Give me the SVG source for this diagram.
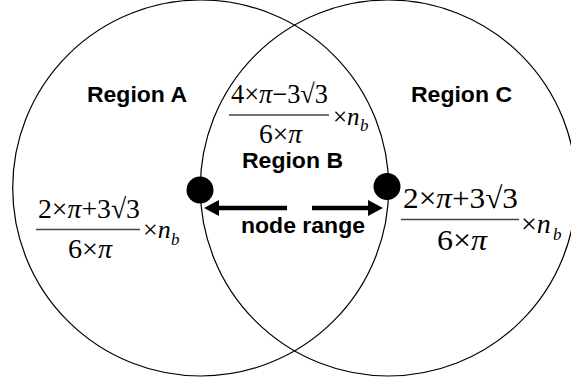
<svg xmlns="http://www.w3.org/2000/svg" width="571" height="381" viewBox="0 0 571 381">
<style>
.ring{fill:none;stroke:#000;stroke-width:1.2}
.lbl{font-family:"Liberation Sans",Arial,sans-serif;font-weight:bold;font-size:21.5px;fill:#000}
.m{font-family:"Liberation Serif","Times New Roman",serif;font-size:28px;fill:#000}
.it{font-style:italic}
.sub{font-family:"Liberation Serif","Times New Roman",serif;font-style:italic;font-size:17px;fill:#000}
.bar{stroke:#444;stroke-width:1.4}
.dot{fill:#000}
.shaft{stroke:#000;stroke-width:4.5}
</style>
<rect width="571" height="381" fill="#fff"/>
<g id="circle-left"><circle class="ring" cx="200.7" cy="188" r="188"/></g>
<g id="circle-right"><circle class="ring" cx="388.3" cy="188" r="188"/></g>

<g id="region-a">
<text class="lbl" x="87" y="102" textLength="100" lengthAdjust="spacingAndGlyphs">Region A</text>
<text class="m" x="38" y="218" textLength="102" lengthAdjust="spacingAndGlyphs">2×<tspan class="it">π</tspan>+3√3</text>
<line class="bar" x1="36" y1="229.5" x2="140" y2="229.5"/>
<text class="m" x="68" y="258" textLength="44" lengthAdjust="spacingAndGlyphs">6×<tspan class="it">π</tspan></text>
<text class="m" x="143" y="238" style="font-size:26px">×<tspan class="it">n</tspan></text>
<text class="sub" x="171" y="245">b</text>
</g>

<g id="region-b">
<text class="m" x="231" y="102.5" textLength="97" lengthAdjust="spacingAndGlyphs" style="font-size:27px">4×<tspan class="it">π</tspan>−3√3</text>
<line class="bar" x1="229" y1="115" x2="329" y2="115"/>
<text class="m" x="259" y="142.5" textLength="43" lengthAdjust="spacingAndGlyphs" style="font-size:27px">6×<tspan class="it">π</tspan></text>
<text class="m" x="333" y="125" style="font-size:25px">×<tspan class="it">n</tspan></text>
<text class="sub" x="360" y="131">b</text>
<text class="lbl" x="242" y="168" textLength="101" lengthAdjust="spacingAndGlyphs">Region B</text>
</g>

<g id="region-c">
<text class="lbl" x="411" y="102" textLength="101" lengthAdjust="spacingAndGlyphs">Region C</text>
<text class="m" x="403" y="207.5" textLength="115" lengthAdjust="spacingAndGlyphs" style="font-size:30px">2×<tspan class="it">π</tspan>+3√3</text>
<line class="bar" x1="401" y1="219.5" x2="519" y2="219.5"/>
<text class="m" x="437" y="250" textLength="50" lengthAdjust="spacingAndGlyphs" style="font-size:30px">6×<tspan class="it">π</tspan></text>
<text class="m" x="521" y="233" style="font-size:28px">×<tspan class="it">n</tspan></text>
<text class="sub" x="553" y="240">b</text>
</g>

<g id="node-left"><circle class="dot" cx="200" cy="190" r="13.5"/></g>
<g id="node-right"><circle class="dot" cx="387" cy="186.5" r="13.5"/></g>

<g id="connectors">
<line class="shaft" x1="287" y1="208" x2="216" y2="208"/>
<polygon points="204,208 219,200 219,216" fill="#000"/>
<line class="shaft" x1="312" y1="208" x2="371" y2="208"/>
<polygon points="383,208 368,200 368,216" fill="#000"/>
<text class="lbl" x="241" y="233" textLength="124" lengthAdjust="spacingAndGlyphs">node range</text>
</g>
</svg>
